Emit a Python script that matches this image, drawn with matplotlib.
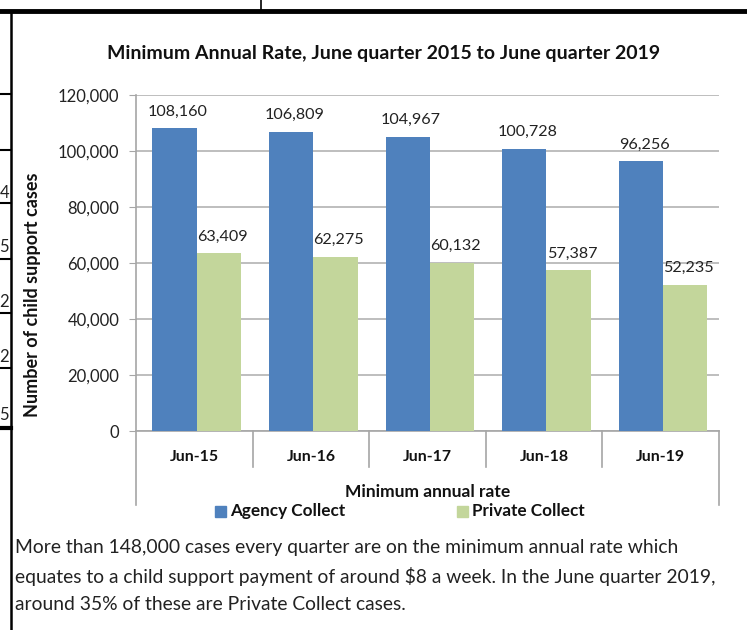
import matplotlib.pyplot as plt
from matplotlib.lines import Line2D
from matplotlib.patches import Rectangle

plt.rcParams['font.family'] = ['Lato', 'DejaVu Sans']

categorias = ['Jun-15', 'Jun-16', 'Jun-17', 'Jun-18', 'Jun-19']
agency = [108160, 106809, 104967, 100728, 96256]
private = [63409, 62275, 60132, 57387, 52235]
yticks = [0, 20000, 40000, 60000, 80000, 100000, 120000]
texto = ['More than 148,000 cases every quarter are on the minimum annual rate which',
         'equates to a child support payment of around $8 a week. In the June quarter 2019,',
         'around 35% of these are Private Collect cases.']
numeros_izq = ['4', '5', '2', '2', '5']

W, H = 747, 630
fig = plt.figure(figsize=(W / 100, H / 100), dpi=100)

def fx(x):
    return x / W

def fy(y):
    return 1 - y / H

# plot area in pixels: left 136, right 719, top 95, bottom 431
ax = fig.add_axes([fx(136), fy(431), fx(719 - 136), (431 - 95) / H])

azul = '#4f81bd'
verde = '#c3d69b'
gris = '#a6a6a6'
ancho = 0.38
xs = list(range(len(categorias)))

ax.bar([x - ancho / 2 + 0.02 for x in xs], agency, ancho, color=azul, zorder=3)
ax.bar([x + ancho / 2 + 0.02 for x in xs], private, ancho, color=verde, zorder=3)

for x, v in zip(xs, agency):
    ax.annotate(f'{v:,}', (x - ancho / 2 + 0.05, v), xytext=(0, 7), textcoords='offset points',
                ha='center', va='bottom', fontsize=11.6, color='#222222')
for x, v in zip(xs, private):
    ax.annotate(f'{v:,}', (x + ancho / 2 + 0.05, v), xytext=(0, 7), textcoords='offset points',
                ha='center', va='bottom', fontsize=11.6, color='#222222')

ax.set_xlim(-0.5, len(categorias) - 0.5)
ax.set_ylim(0, 120000)
ax.set_yticks(yticks)
ax.set_yticklabels([f'{t:,}' for t in yticks], fontsize=12, color='#222222')
ax.tick_params(axis='y', length=5, color=gris, pad=7)
ax.set_xticks([])
ax.grid(axis='y', color='#b3b3b3', linewidth=1.2, zorder=0)
for lado in ['top', 'right']:
    ax.spines[lado].set_visible(False)
ax.spines['left'].set_color(gris)
ax.spines['bottom'].set_color(gris)
ax.spines['left'].set_linewidth(1.2)
ax.spines['bottom'].set_linewidth(1.2)

# separadores del eje de categorias
tr = ax.get_xaxis_transform()
for i in range(len(categorias) + 1):
    fondo = -0.22 if i in (0, len(categorias)) else -0.107
    ax.plot([i - 0.5, i - 0.5], [0, fondo], color=gris, lw=1.2, transform=tr, clip_on=False)
for x, c in zip(xs, categorias):
    ax.text(x, -0.078, c, transform=tr, ha='center', va='center', fontsize=11.4,
            fontweight='bold', color='#111111')

fig.text(fx(428), fy(492), 'Minimum annual rate', ha='center', va='center', fontsize=12.5,
         fontweight='bold', color='#111111')
fig.text(fx(384), fy(53), 'Minimum Annual Rate, June quarter 2015 to June quarter 2019',
         ha='center', va='center', fontsize=14, fontweight='bold', color='#111111')
fig.text(fx(33), fy(295), 'Number of child support cases', rotation=90, ha='center',
         va='center', fontsize=13, fontweight='bold', color='#111111')

# leyenda
fig.patches.append(Rectangle((fx(215), fy(517)), fx(11), 11 / H, color=azul, transform=fig.transFigure))
fig.text(fx(230), fy(511), 'Agency Collect', ha='left', va='center', fontsize=12.3,
         fontweight='bold', color='#111111')
fig.patches.append(Rectangle((fx(457), fy(517)), fx(11), 11 / H, color=verde, transform=fig.transFigure))
fig.text(fx(472), fy(511), 'Private Collect', ha='left', va='center', fontsize=12.3,
         fontweight='bold', color='#111111')

# texto del documento
for i, linea in enumerate(texto):
    fig.text(fx(15), fy(548 + i * 28), linea, ha='left', va='center', fontsize=13.9, color='#222222')

# bordes de la tabla
fig.lines.append(Line2D([0, 1], [fy(11), fy(11)], color='black', lw=3.5, transform=fig.transFigure))
fig.lines.append(Line2D([fx(261), fx(261)], [1, fy(11)], color='black', lw=1.2, transform=fig.transFigure))
fig.lines.append(Line2D([fx(11), fx(11)], [0, fy(11)], color='black', lw=1.8, transform=fig.transFigure))
for y in [94, 150, 203, 259, 313, 368]:
    fig.lines.append(Line2D([0, fx(11)], [fy(y), fy(y)], color='black', lw=1.5, transform=fig.transFigure))
fig.lines.append(Line2D([0, fx(11)], [fy(428), fy(428)], color='black', lw=3, transform=fig.transFigure))
for y, n in zip([193, 247, 302, 357, 415], numeros_izq):
    fig.text(fx(9), fy(y), n, ha='right', va='center', fontsize=12, color='#222222')

fig.savefig('out.png', dpi=100)
